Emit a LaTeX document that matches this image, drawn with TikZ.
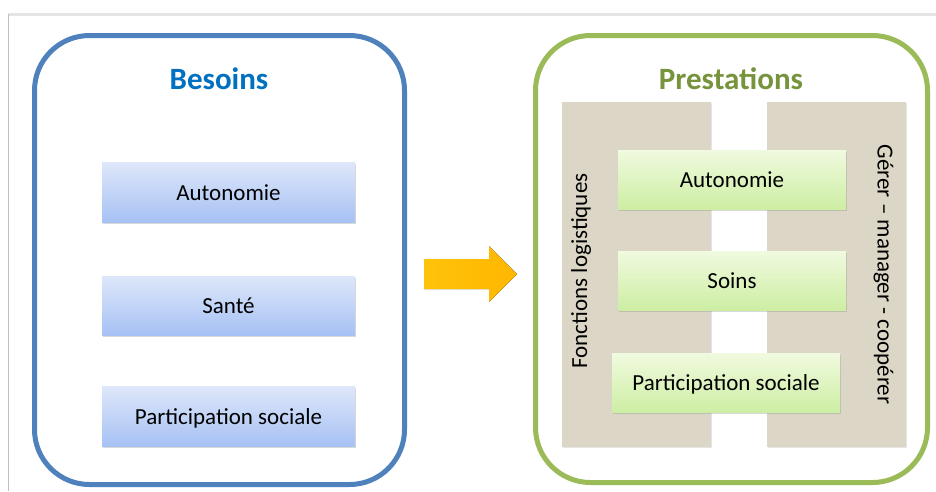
\documentclass[tikz,border=0pt]{standalone}
\usepackage{fontspec}
\setmainfont{Carlito}
\usepackage{xcolor}
\usetikzlibrary{positioning,shadows,calc}

\definecolor{besoinline}{HTML}{4F81BD}
\definecolor{besointitle}{HTML}{0070C0}
\definecolor{prestline}{HTML}{9BBB59}
\definecolor{presttitle}{HTML}{77933C}
\definecolor{tan}{HTML}{DBD6C6}
\definecolor{arrowyellow}{HTML}{FFC20A}
\definecolor{arroworange}{HTML}{FFB700}
\definecolor{bluetop}{HTML}{DEE7FA}
\definecolor{bluebot}{HTML}{A6C1F4}
\definecolor{greentop}{HTML}{F0FADF}
\definecolor{greenbot}{HTML}{CDEEA3}

\tikzset{
    bigbox/.style={draw, line width=5pt, rounded corners=55pt, fill=white},
    titletext/.style={font=\fontsize{31}{36}\selectfont\bfseries, inner sep=0pt},
    itembox/.style={minimum height=60pt, text height=15pt, text depth=0pt,
        font=\fontsize{23}{27}\selectfont,
        drop shadow={shadow xshift=1pt, shadow yshift=-1.5pt, opacity=0.3}},
    bluebox/.style={itembox, minimum width=253pt, top color=bluetop, bottom color=bluebot},
    greenbox/.style={itembox, minimum width=228pt, minimum height=59pt, top color=greentop, bottom color=greenbot},
    column/.style={fill=tan, minimum height=345pt,
        drop shadow={shadow xshift=1pt, shadow yshift=-1pt, opacity=0.2}},
    sidetext/.style={font=\fontsize{23}{27}\selectfont, text height=15pt, text depth=0pt, inner sep=0pt}
}

\begin{document}
\begin{tikzpicture}[x=1pt,y=-1pt]
    \useasboundingbox (0,0) rectangle (936,491);

    % screen frame
    \draw[black!10, line width=3pt] (8,14) -- (936,14);
    \draw[black!25, line width=0.8pt] (8,14) -- (8,491);

    % Besoins
    \node[bigbox, draw=besoinline, minimum width=370pt, minimum height=449pt] (besoins) at (219.5,260) {};
    \node[titletext, text=besointitle, anchor=base] (tBesoins) at (219,89) {Besoins};
    \node[bluebox] (bAuto) at (228.5,192.5) {Autonomie};
    \node[bluebox, minimum height=59pt] (bSante) at (228.5,305.5) {Santé};
    \node[bluebox] (bPart) at (228.5,416.5) {Participation sociale};

    % Arrow
    \fill[left color=arrowyellow, right color=arroworange]
        (424,259) -- (489,259) -- (489,246) -- (517,274) -- (489,302) -- (489,289) -- (424,289) -- cycle;

    % Prestations
    \node[bigbox, draw=prestline, minimum width=392pt, minimum height=447pt] (prestations) at (731.5,259) {};
    \node[titletext, text=presttitle, anchor=base] (tPrest) at (731,89) {Prestations};

    % Columns
    \node[column, minimum width=149pt] (colLeft) at (636.5,274.5) {};
    \node[column, minimum width=139pt] (colRight) at (836.5,274.5) {};
    \node[sidetext, rotate=90] (logi) at (579.5,271) {Fonctions logistiques};
    \node[sidetext, rotate=-90] (gerer) at (885,274.5) {Gérer – manager - coopérer};

    % Prestations items
    \node[greenbox] (pAuto) at (732,179.5) {Autonomie};
    \node[greenbox] (pSoins) at (732,280.5) {Soins};
    \node[greenbox] (pPart) at (726,383) {Participation sociale};

\end{tikzpicture}
\end{document}
